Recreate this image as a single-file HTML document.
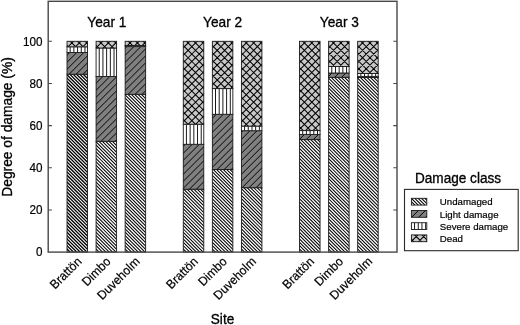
<!DOCTYPE html>
<html><head><meta charset="utf-8"><style>
html,body{margin:0;padding:0;background:#fff;}
body{width:520px;height:325px;overflow:hidden;}
svg{display:block;will-change:transform;font-family:"Liberation Sans",sans-serif;fill:#000;}
</style></head><body>
<svg width="520" height="325" viewBox="0 0 520 325">
<rect width="520" height="325" fill="#fff"/>
<clipPath id="c1"><rect x="67.02" y="74.20" width="20.50" height="177.90"/></clipPath><rect x="67.02" y="74.20" width="20.50" height="177.90" fill="#ffffff"/><path d="M66.02,50.35L88.52,72.85M66.02,53.70L88.52,76.20M66.02,57.05L88.52,79.55M66.02,60.40L88.52,82.90M66.02,63.75L88.52,86.25M66.02,67.10L88.52,89.60M66.02,70.45L88.52,92.95M66.02,73.80L88.52,96.30M66.02,77.15L88.52,99.65M66.02,80.50L88.52,103.00M66.02,83.85L88.52,106.35M66.02,87.20L88.52,109.70M66.02,90.55L88.52,113.05M66.02,93.90L88.52,116.40M66.02,97.25L88.52,119.75M66.02,100.60L88.52,123.10M66.02,103.95L88.52,126.45M66.02,107.30L88.52,129.80M66.02,110.65L88.52,133.15M66.02,114.00L88.52,136.50M66.02,117.35L88.52,139.85M66.02,120.70L88.52,143.20M66.02,124.05L88.52,146.55M66.02,127.40L88.52,149.90M66.02,130.75L88.52,153.25M66.02,134.10L88.52,156.60M66.02,137.45L88.52,159.95M66.02,140.80L88.52,163.30M66.02,144.15L88.52,166.65M66.02,147.50L88.52,170.00M66.02,150.85L88.52,173.35M66.02,154.20L88.52,176.70M66.02,157.55L88.52,180.05M66.02,160.90L88.52,183.40M66.02,164.25L88.52,186.75M66.02,167.60L88.52,190.10M66.02,170.95L88.52,193.45M66.02,174.30L88.52,196.80M66.02,177.65L88.52,200.15M66.02,181.00L88.52,203.50M66.02,184.35L88.52,206.85M66.02,187.70L88.52,210.20M66.02,191.05L88.52,213.55M66.02,194.40L88.52,216.90M66.02,197.75L88.52,220.25M66.02,201.10L88.52,223.60M66.02,204.45L88.52,226.95M66.02,207.80L88.52,230.30M66.02,211.15L88.52,233.65M66.02,214.50L88.52,237.00M66.02,217.85L88.52,240.35M66.02,221.20L88.52,243.70M66.02,224.55L88.52,247.05M66.02,227.90L88.52,250.40M66.02,231.25L88.52,253.75M66.02,234.60L88.52,257.10M66.02,237.95L88.52,260.45M66.02,241.30L88.52,263.80M66.02,244.65L88.52,267.15M66.02,248.00L88.52,270.50" stroke="#000" stroke-width="1.30" fill="none" clip-path="url(#c1)"/><rect x="67.02" y="74.20" width="20.50" height="177.90" fill="none" stroke="#1a1a1a" stroke-width="0.9"/>
<clipPath id="c2"><rect x="67.02" y="52.50" width="20.50" height="21.70"/></clipPath><rect x="67.02" y="52.50" width="20.50" height="21.70" fill="#808080"/><path d="M66.02,49.30L88.52,26.80M66.02,56.30L88.52,33.80M66.02,63.30L88.52,40.80M66.02,70.30L88.52,47.80M66.02,77.30L88.52,54.80M66.02,84.30L88.52,61.80M66.02,91.30L88.52,68.80" stroke="#000" stroke-width="1.00" fill="none" clip-path="url(#c2)"/><rect x="67.02" y="52.50" width="20.50" height="21.70" fill="none" stroke="#1a1a1a" stroke-width="0.9"/>
<clipPath id="c3"><rect x="67.02" y="46.80" width="20.50" height="5.70"/></clipPath><rect x="67.02" y="46.80" width="20.50" height="5.70" fill="#ffffff"/><path d="M70.17,46.80L70.17,52.50M73.87,46.80L73.87,52.50M77.57,46.80L77.57,52.50M81.27,46.80L81.27,52.50M84.97,46.80L84.97,52.50" stroke="#000" stroke-width="0.90" fill="none" clip-path="url(#c3)"/><rect x="67.02" y="46.80" width="20.50" height="5.70" fill="none" stroke="#1a1a1a" stroke-width="0.9"/>
<clipPath id="c4"><rect x="67.02" y="41.30" width="20.50" height="5.50"/></clipPath><rect x="67.02" y="41.30" width="20.50" height="5.50" fill="#c8c8c8"/><path d="M66.02,14.90L88.52,37.40M66.02,22.30L88.52,44.80M66.02,29.70L88.52,52.20M66.02,37.10L88.52,59.60M66.02,44.50L88.52,67.00M66.02,41.40L88.52,18.90M66.02,48.80L88.52,26.30M66.02,56.20L88.52,33.70M66.02,63.60L88.52,41.10" stroke="#000" stroke-width="1.05" fill="none" clip-path="url(#c4)"/><rect x="67.02" y="41.30" width="20.50" height="5.50" fill="none" stroke="#1a1a1a" stroke-width="0.9"/>
<clipPath id="c5"><rect x="96.08" y="141.30" width="20.50" height="110.80"/></clipPath><rect x="96.08" y="141.30" width="20.50" height="110.80" fill="#ffffff"/><path d="M95.08,117.35L117.58,139.85M95.08,120.70L117.58,143.20M95.08,124.05L117.58,146.55M95.08,127.40L117.58,149.90M95.08,130.75L117.58,153.25M95.08,134.10L117.58,156.60M95.08,137.45L117.58,159.95M95.08,140.80L117.58,163.30M95.08,144.15L117.58,166.65M95.08,147.50L117.58,170.00M95.08,150.85L117.58,173.35M95.08,154.20L117.58,176.70M95.08,157.55L117.58,180.05M95.08,160.90L117.58,183.40M95.08,164.25L117.58,186.75M95.08,167.60L117.58,190.10M95.08,170.95L117.58,193.45M95.08,174.30L117.58,196.80M95.08,177.65L117.58,200.15M95.08,181.00L117.58,203.50M95.08,184.35L117.58,206.85M95.08,187.70L117.58,210.20M95.08,191.05L117.58,213.55M95.08,194.40L117.58,216.90M95.08,197.75L117.58,220.25M95.08,201.10L117.58,223.60M95.08,204.45L117.58,226.95M95.08,207.80L117.58,230.30M95.08,211.15L117.58,233.65M95.08,214.50L117.58,237.00M95.08,217.85L117.58,240.35M95.08,221.20L117.58,243.70M95.08,224.55L117.58,247.05M95.08,227.90L117.58,250.40M95.08,231.25L117.58,253.75M95.08,234.60L117.58,257.10M95.08,237.95L117.58,260.45M95.08,241.30L117.58,263.80M95.08,244.65L117.58,267.15M95.08,248.00L117.58,270.50" stroke="#000" stroke-width="1.05" fill="none" clip-path="url(#c5)"/><rect x="96.08" y="141.30" width="20.50" height="110.80" fill="none" stroke="#1a1a1a" stroke-width="0.9"/>
<clipPath id="c6"><rect x="96.08" y="76.50" width="20.50" height="64.80"/></clipPath><rect x="96.08" y="76.50" width="20.50" height="64.80" fill="#808080"/><path d="M95.08,77.30L117.58,54.80M95.08,84.30L117.58,61.80M95.08,91.30L117.58,68.80M95.08,98.30L117.58,75.80M95.08,105.30L117.58,82.80M95.08,112.30L117.58,89.80M95.08,119.30L117.58,96.80M95.08,126.30L117.58,103.80M95.08,133.30L117.58,110.80M95.08,140.30L117.58,117.80M95.08,147.30L117.58,124.80M95.08,154.30L117.58,131.80M95.08,161.30L117.58,138.80" stroke="#000" stroke-width="1.00" fill="none" clip-path="url(#c6)"/><rect x="96.08" y="76.50" width="20.50" height="64.80" fill="none" stroke="#1a1a1a" stroke-width="0.9"/>
<clipPath id="c7"><rect x="96.08" y="48.00" width="20.50" height="28.50"/></clipPath><rect x="96.08" y="48.00" width="20.50" height="28.50" fill="#ffffff"/><path d="M99.23,48.00L99.23,76.50M102.93,48.00L102.93,76.50M106.63,48.00L106.63,76.50M110.33,48.00L110.33,76.50M114.03,48.00L114.03,76.50" stroke="#000" stroke-width="0.90" fill="none" clip-path="url(#c7)"/><rect x="96.08" y="48.00" width="20.50" height="28.50" fill="none" stroke="#1a1a1a" stroke-width="0.9"/>
<clipPath id="c8"><rect x="96.08" y="41.30" width="20.50" height="6.70"/></clipPath><rect x="96.08" y="41.30" width="20.50" height="6.70" fill="#c8c8c8"/><path d="M95.08,14.90L117.58,37.40M95.08,22.30L117.58,44.80M95.08,29.70L117.58,52.20M95.08,37.10L117.58,59.60M95.08,44.50L117.58,67.00M95.08,41.40L117.58,18.90M95.08,48.80L117.58,26.30M95.08,56.20L117.58,33.70M95.08,63.60L117.58,41.10" stroke="#000" stroke-width="1.05" fill="none" clip-path="url(#c8)"/><rect x="96.08" y="41.30" width="20.50" height="6.70" fill="none" stroke="#1a1a1a" stroke-width="0.9"/>
<clipPath id="c9"><rect x="125.15" y="94.30" width="20.50" height="157.80"/></clipPath><rect x="125.15" y="94.30" width="20.50" height="157.80" fill="#ffffff"/><path d="M124.15,70.45L146.65,92.95M124.15,73.80L146.65,96.30M124.15,77.15L146.65,99.65M124.15,80.50L146.65,103.00M124.15,83.85L146.65,106.35M124.15,87.20L146.65,109.70M124.15,90.55L146.65,113.05M124.15,93.90L146.65,116.40M124.15,97.25L146.65,119.75M124.15,100.60L146.65,123.10M124.15,103.95L146.65,126.45M124.15,107.30L146.65,129.80M124.15,110.65L146.65,133.15M124.15,114.00L146.65,136.50M124.15,117.35L146.65,139.85M124.15,120.70L146.65,143.20M124.15,124.05L146.65,146.55M124.15,127.40L146.65,149.90M124.15,130.75L146.65,153.25M124.15,134.10L146.65,156.60M124.15,137.45L146.65,159.95M124.15,140.80L146.65,163.30M124.15,144.15L146.65,166.65M124.15,147.50L146.65,170.00M124.15,150.85L146.65,173.35M124.15,154.20L146.65,176.70M124.15,157.55L146.65,180.05M124.15,160.90L146.65,183.40M124.15,164.25L146.65,186.75M124.15,167.60L146.65,190.10M124.15,170.95L146.65,193.45M124.15,174.30L146.65,196.80M124.15,177.65L146.65,200.15M124.15,181.00L146.65,203.50M124.15,184.35L146.65,206.85M124.15,187.70L146.65,210.20M124.15,191.05L146.65,213.55M124.15,194.40L146.65,216.90M124.15,197.75L146.65,220.25M124.15,201.10L146.65,223.60M124.15,204.45L146.65,226.95M124.15,207.80L146.65,230.30M124.15,211.15L146.65,233.65M124.15,214.50L146.65,237.00M124.15,217.85L146.65,240.35M124.15,221.20L146.65,243.70M124.15,224.55L146.65,247.05M124.15,227.90L146.65,250.40M124.15,231.25L146.65,253.75M124.15,234.60L146.65,257.10M124.15,237.95L146.65,260.45M124.15,241.30L146.65,263.80M124.15,244.65L146.65,267.15M124.15,248.00L146.65,270.50" stroke="#000" stroke-width="1.05" fill="none" clip-path="url(#c9)"/><rect x="125.15" y="94.30" width="20.50" height="157.80" fill="none" stroke="#1a1a1a" stroke-width="0.9"/>
<clipPath id="c10"><rect x="125.15" y="46.60" width="20.50" height="47.70"/></clipPath><rect x="125.15" y="46.60" width="20.50" height="47.70" fill="#808080"/><path d="M124.15,42.30L146.65,19.80M124.15,49.30L146.65,26.80M124.15,56.30L146.65,33.80M124.15,63.30L146.65,40.80M124.15,70.30L146.65,47.80M124.15,77.30L146.65,54.80M124.15,84.30L146.65,61.80M124.15,91.30L146.65,68.80M124.15,98.30L146.65,75.80M124.15,105.30L146.65,82.80M124.15,112.30L146.65,89.80" stroke="#000" stroke-width="1.00" fill="none" clip-path="url(#c10)"/><rect x="125.15" y="46.60" width="20.50" height="47.70" fill="none" stroke="#1a1a1a" stroke-width="0.9"/>
<clipPath id="c11"><rect x="125.15" y="45.50" width="20.50" height="1.10"/></clipPath><rect x="125.15" y="45.50" width="20.50" height="1.10" fill="#ffffff"/><path d="M128.30,45.50L128.30,46.60M132.00,45.50L132.00,46.60M135.70,45.50L135.70,46.60M139.40,45.50L139.40,46.60M143.10,45.50L143.10,46.60" stroke="#000" stroke-width="0.90" fill="none" clip-path="url(#c11)"/><rect x="125.15" y="45.50" width="20.50" height="1.10" fill="none" stroke="#1a1a1a" stroke-width="0.9"/>
<clipPath id="c12"><rect x="125.15" y="41.30" width="20.50" height="4.20"/></clipPath><rect x="125.15" y="41.30" width="20.50" height="4.20" fill="#c8c8c8"/><path d="M124.15,14.90L146.65,37.40M124.15,22.30L146.65,44.80M124.15,29.70L146.65,52.20M124.15,37.10L146.65,59.60M124.15,44.50L146.65,67.00M124.15,41.40L146.65,18.90M124.15,48.80L146.65,26.30M124.15,56.20L146.65,33.70M124.15,63.60L146.65,41.10" stroke="#000" stroke-width="1.05" fill="none" clip-path="url(#c12)"/><rect x="125.15" y="41.30" width="20.50" height="4.20" fill="none" stroke="#1a1a1a" stroke-width="0.9"/>
<clipPath id="c13"><rect x="183.28" y="189.20" width="20.50" height="62.90"/></clipPath><rect x="183.28" y="189.20" width="20.50" height="62.90" fill="#ffffff"/><path d="M182.28,167.60L204.78,190.10M182.28,170.95L204.78,193.45M182.28,174.30L204.78,196.80M182.28,177.65L204.78,200.15M182.28,181.00L204.78,203.50M182.28,184.35L204.78,206.85M182.28,187.70L204.78,210.20M182.28,191.05L204.78,213.55M182.28,194.40L204.78,216.90M182.28,197.75L204.78,220.25M182.28,201.10L204.78,223.60M182.28,204.45L204.78,226.95M182.28,207.80L204.78,230.30M182.28,211.15L204.78,233.65M182.28,214.50L204.78,237.00M182.28,217.85L204.78,240.35M182.28,221.20L204.78,243.70M182.28,224.55L204.78,247.05M182.28,227.90L204.78,250.40M182.28,231.25L204.78,253.75M182.28,234.60L204.78,257.10M182.28,237.95L204.78,260.45M182.28,241.30L204.78,263.80M182.28,244.65L204.78,267.15M182.28,248.00L204.78,270.50" stroke="#000" stroke-width="1.05" fill="none" clip-path="url(#c13)"/><rect x="183.28" y="189.20" width="20.50" height="62.90" fill="none" stroke="#1a1a1a" stroke-width="0.9"/>
<clipPath id="c14"><rect x="183.28" y="144.30" width="20.50" height="44.90"/></clipPath><rect x="183.28" y="144.30" width="20.50" height="44.90" fill="#808080"/><path d="M182.28,140.30L204.78,117.80M182.28,147.30L204.78,124.80M182.28,154.30L204.78,131.80M182.28,161.30L204.78,138.80M182.28,168.30L204.78,145.80M182.28,175.30L204.78,152.80M182.28,182.30L204.78,159.80M182.28,189.30L204.78,166.80M182.28,196.30L204.78,173.80M182.28,203.30L204.78,180.80M182.28,210.30L204.78,187.80" stroke="#000" stroke-width="1.00" fill="none" clip-path="url(#c14)"/><rect x="183.28" y="144.30" width="20.50" height="44.90" fill="none" stroke="#1a1a1a" stroke-width="0.9"/>
<clipPath id="c15"><rect x="183.28" y="124.20" width="20.50" height="20.10"/></clipPath><rect x="183.28" y="124.20" width="20.50" height="20.10" fill="#ffffff"/><path d="M186.43,124.20L186.43,144.30M190.13,124.20L190.13,144.30M193.83,124.20L193.83,144.30M197.53,124.20L197.53,144.30M201.23,124.20L201.23,144.30" stroke="#000" stroke-width="0.90" fill="none" clip-path="url(#c15)"/><rect x="183.28" y="124.20" width="20.50" height="20.10" fill="none" stroke="#1a1a1a" stroke-width="0.9"/>
<clipPath id="c16"><rect x="183.28" y="41.30" width="20.50" height="82.90"/></clipPath><rect x="183.28" y="41.30" width="20.50" height="82.90" fill="#c8c8c8"/><path d="M182.28,14.90L204.78,37.40M182.28,22.30L204.78,44.80M182.28,29.70L204.78,52.20M182.28,37.10L204.78,59.60M182.28,44.50L204.78,67.00M182.28,51.90L204.78,74.40M182.28,59.30L204.78,81.80M182.28,66.70L204.78,89.20M182.28,74.10L204.78,96.60M182.28,81.50L204.78,104.00M182.28,88.90L204.78,111.40M182.28,96.30L204.78,118.80M182.28,103.70L204.78,126.20M182.28,111.10L204.78,133.60M182.28,118.50L204.78,141.00M182.28,41.40L204.78,18.90M182.28,48.80L204.78,26.30M182.28,56.20L204.78,33.70M182.28,63.60L204.78,41.10M182.28,71.00L204.78,48.50M182.28,78.40L204.78,55.90M182.28,85.80L204.78,63.30M182.28,93.20L204.78,70.70M182.28,100.60L204.78,78.10M182.28,108.00L204.78,85.50M182.28,115.40L204.78,92.90M182.28,122.80L204.78,100.30M182.28,130.20L204.78,107.70M182.28,137.60L204.78,115.10M182.28,145.00L204.78,122.50" stroke="#000" stroke-width="1.05" fill="none" clip-path="url(#c16)"/><rect x="183.28" y="41.30" width="20.50" height="82.90" fill="none" stroke="#1a1a1a" stroke-width="0.9"/>
<clipPath id="c17"><rect x="212.35" y="169.50" width="20.50" height="82.60"/></clipPath><rect x="212.35" y="169.50" width="20.50" height="82.60" fill="#ffffff"/><path d="M211.35,147.50L233.85,170.00M211.35,150.85L233.85,173.35M211.35,154.20L233.85,176.70M211.35,157.55L233.85,180.05M211.35,160.90L233.85,183.40M211.35,164.25L233.85,186.75M211.35,167.60L233.85,190.10M211.35,170.95L233.85,193.45M211.35,174.30L233.85,196.80M211.35,177.65L233.85,200.15M211.35,181.00L233.85,203.50M211.35,184.35L233.85,206.85M211.35,187.70L233.85,210.20M211.35,191.05L233.85,213.55M211.35,194.40L233.85,216.90M211.35,197.75L233.85,220.25M211.35,201.10L233.85,223.60M211.35,204.45L233.85,226.95M211.35,207.80L233.85,230.30M211.35,211.15L233.85,233.65M211.35,214.50L233.85,237.00M211.35,217.85L233.85,240.35M211.35,221.20L233.85,243.70M211.35,224.55L233.85,247.05M211.35,227.90L233.85,250.40M211.35,231.25L233.85,253.75M211.35,234.60L233.85,257.10M211.35,237.95L233.85,260.45M211.35,241.30L233.85,263.80M211.35,244.65L233.85,267.15M211.35,248.00L233.85,270.50" stroke="#000" stroke-width="1.05" fill="none" clip-path="url(#c17)"/><rect x="212.35" y="169.50" width="20.50" height="82.60" fill="none" stroke="#1a1a1a" stroke-width="0.9"/>
<clipPath id="c18"><rect x="212.35" y="114.30" width="20.50" height="55.20"/></clipPath><rect x="212.35" y="114.30" width="20.50" height="55.20" fill="#808080"/><path d="M211.35,112.30L233.85,89.80M211.35,119.30L233.85,96.80M211.35,126.30L233.85,103.80M211.35,133.30L233.85,110.80M211.35,140.30L233.85,117.80M211.35,147.30L233.85,124.80M211.35,154.30L233.85,131.80M211.35,161.30L233.85,138.80M211.35,168.30L233.85,145.80M211.35,175.30L233.85,152.80M211.35,182.30L233.85,159.80M211.35,189.30L233.85,166.80" stroke="#000" stroke-width="1.00" fill="none" clip-path="url(#c18)"/><rect x="212.35" y="114.30" width="20.50" height="55.20" fill="none" stroke="#1a1a1a" stroke-width="0.9"/>
<clipPath id="c19"><rect x="212.35" y="88.60" width="20.50" height="25.70"/></clipPath><rect x="212.35" y="88.60" width="20.50" height="25.70" fill="#ffffff"/><path d="M215.50,88.60L215.50,114.30M219.20,88.60L219.20,114.30M222.90,88.60L222.90,114.30M226.60,88.60L226.60,114.30M230.30,88.60L230.30,114.30" stroke="#000" stroke-width="0.90" fill="none" clip-path="url(#c19)"/><rect x="212.35" y="88.60" width="20.50" height="25.70" fill="none" stroke="#1a1a1a" stroke-width="0.9"/>
<clipPath id="c20"><rect x="212.35" y="41.30" width="20.50" height="47.30"/></clipPath><rect x="212.35" y="41.30" width="20.50" height="47.30" fill="#c8c8c8"/><path d="M211.35,14.90L233.85,37.40M211.35,22.30L233.85,44.80M211.35,29.70L233.85,52.20M211.35,37.10L233.85,59.60M211.35,44.50L233.85,67.00M211.35,51.90L233.85,74.40M211.35,59.30L233.85,81.80M211.35,66.70L233.85,89.20M211.35,74.10L233.85,96.60M211.35,81.50L233.85,104.00M211.35,41.40L233.85,18.90M211.35,48.80L233.85,26.30M211.35,56.20L233.85,33.70M211.35,63.60L233.85,41.10M211.35,71.00L233.85,48.50M211.35,78.40L233.85,55.90M211.35,85.80L233.85,63.30M211.35,93.20L233.85,70.70M211.35,100.60L233.85,78.10M211.35,108.00L233.85,85.50" stroke="#000" stroke-width="1.05" fill="none" clip-path="url(#c20)"/><rect x="212.35" y="41.30" width="20.50" height="47.30" fill="none" stroke="#1a1a1a" stroke-width="0.9"/>
<clipPath id="c21"><rect x="241.42" y="187.70" width="20.50" height="64.40"/></clipPath><rect x="241.42" y="187.70" width="20.50" height="64.40" fill="#ffffff"/><path d="M240.42,164.25L262.92,186.75M240.42,167.60L262.92,190.10M240.42,170.95L262.92,193.45M240.42,174.30L262.92,196.80M240.42,177.65L262.92,200.15M240.42,181.00L262.92,203.50M240.42,184.35L262.92,206.85M240.42,187.70L262.92,210.20M240.42,191.05L262.92,213.55M240.42,194.40L262.92,216.90M240.42,197.75L262.92,220.25M240.42,201.10L262.92,223.60M240.42,204.45L262.92,226.95M240.42,207.80L262.92,230.30M240.42,211.15L262.92,233.65M240.42,214.50L262.92,237.00M240.42,217.85L262.92,240.35M240.42,221.20L262.92,243.70M240.42,224.55L262.92,247.05M240.42,227.90L262.92,250.40M240.42,231.25L262.92,253.75M240.42,234.60L262.92,257.10M240.42,237.95L262.92,260.45M240.42,241.30L262.92,263.80M240.42,244.65L262.92,267.15M240.42,248.00L262.92,270.50" stroke="#000" stroke-width="1.05" fill="none" clip-path="url(#c21)"/><rect x="241.42" y="187.70" width="20.50" height="64.40" fill="none" stroke="#1a1a1a" stroke-width="0.9"/>
<clipPath id="c22"><rect x="241.42" y="130.70" width="20.50" height="57.00"/></clipPath><rect x="241.42" y="130.70" width="20.50" height="57.00" fill="#808080"/><path d="M240.42,126.30L262.92,103.80M240.42,133.30L262.92,110.80M240.42,140.30L262.92,117.80M240.42,147.30L262.92,124.80M240.42,154.30L262.92,131.80M240.42,161.30L262.92,138.80M240.42,168.30L262.92,145.80M240.42,175.30L262.92,152.80M240.42,182.30L262.92,159.80M240.42,189.30L262.92,166.80M240.42,196.30L262.92,173.80M240.42,203.30L262.92,180.80" stroke="#000" stroke-width="1.00" fill="none" clip-path="url(#c22)"/><rect x="241.42" y="130.70" width="20.50" height="57.00" fill="none" stroke="#1a1a1a" stroke-width="0.9"/>
<clipPath id="c23"><rect x="241.42" y="126.10" width="20.50" height="4.60"/></clipPath><rect x="241.42" y="126.10" width="20.50" height="4.60" fill="#ffffff"/><path d="M244.57,126.10L244.57,130.70M248.27,126.10L248.27,130.70M251.97,126.10L251.97,130.70M255.67,126.10L255.67,130.70M259.37,126.10L259.37,130.70" stroke="#000" stroke-width="0.90" fill="none" clip-path="url(#c23)"/><rect x="241.42" y="126.10" width="20.50" height="4.60" fill="none" stroke="#1a1a1a" stroke-width="0.9"/>
<clipPath id="c24"><rect x="241.42" y="41.30" width="20.50" height="84.80"/></clipPath><rect x="241.42" y="41.30" width="20.50" height="84.80" fill="#c8c8c8"/><path d="M240.42,14.90L262.92,37.40M240.42,22.30L262.92,44.80M240.42,29.70L262.92,52.20M240.42,37.10L262.92,59.60M240.42,44.50L262.92,67.00M240.42,51.90L262.92,74.40M240.42,59.30L262.92,81.80M240.42,66.70L262.92,89.20M240.42,74.10L262.92,96.60M240.42,81.50L262.92,104.00M240.42,88.90L262.92,111.40M240.42,96.30L262.92,118.80M240.42,103.70L262.92,126.20M240.42,111.10L262.92,133.60M240.42,118.50L262.92,141.00M240.42,41.40L262.92,18.90M240.42,48.80L262.92,26.30M240.42,56.20L262.92,33.70M240.42,63.60L262.92,41.10M240.42,71.00L262.92,48.50M240.42,78.40L262.92,55.90M240.42,85.80L262.92,63.30M240.42,93.20L262.92,70.70M240.42,100.60L262.92,78.10M240.42,108.00L262.92,85.50M240.42,115.40L262.92,92.90M240.42,122.80L262.92,100.30M240.42,130.20L262.92,107.70M240.42,137.60L262.92,115.10M240.42,145.00L262.92,122.50" stroke="#000" stroke-width="1.05" fill="none" clip-path="url(#c24)"/><rect x="241.42" y="41.30" width="20.50" height="84.80" fill="none" stroke="#1a1a1a" stroke-width="0.9"/>
<clipPath id="c25"><rect x="299.55" y="139.60" width="20.50" height="112.50"/></clipPath><rect x="299.55" y="139.60" width="20.50" height="112.50" fill="#ffffff"/><path d="M298.55,117.35L321.05,139.85M298.55,120.70L321.05,143.20M298.55,124.05L321.05,146.55M298.55,127.40L321.05,149.90M298.55,130.75L321.05,153.25M298.55,134.10L321.05,156.60M298.55,137.45L321.05,159.95M298.55,140.80L321.05,163.30M298.55,144.15L321.05,166.65M298.55,147.50L321.05,170.00M298.55,150.85L321.05,173.35M298.55,154.20L321.05,176.70M298.55,157.55L321.05,180.05M298.55,160.90L321.05,183.40M298.55,164.25L321.05,186.75M298.55,167.60L321.05,190.10M298.55,170.95L321.05,193.45M298.55,174.30L321.05,196.80M298.55,177.65L321.05,200.15M298.55,181.00L321.05,203.50M298.55,184.35L321.05,206.85M298.55,187.70L321.05,210.20M298.55,191.05L321.05,213.55M298.55,194.40L321.05,216.90M298.55,197.75L321.05,220.25M298.55,201.10L321.05,223.60M298.55,204.45L321.05,226.95M298.55,207.80L321.05,230.30M298.55,211.15L321.05,233.65M298.55,214.50L321.05,237.00M298.55,217.85L321.05,240.35M298.55,221.20L321.05,243.70M298.55,224.55L321.05,247.05M298.55,227.90L321.05,250.40M298.55,231.25L321.05,253.75M298.55,234.60L321.05,257.10M298.55,237.95L321.05,260.45M298.55,241.30L321.05,263.80M298.55,244.65L321.05,267.15M298.55,248.00L321.05,270.50" stroke="#000" stroke-width="1.05" fill="none" clip-path="url(#c25)"/><rect x="299.55" y="139.60" width="20.50" height="112.50" fill="none" stroke="#1a1a1a" stroke-width="0.9"/>
<clipPath id="c26"><rect x="299.55" y="134.40" width="20.50" height="5.20"/></clipPath><rect x="299.55" y="134.40" width="20.50" height="5.20" fill="#808080"/><path d="M298.55,133.30L321.05,110.80M298.55,140.30L321.05,117.80M298.55,147.30L321.05,124.80M298.55,154.30L321.05,131.80" stroke="#000" stroke-width="1.00" fill="none" clip-path="url(#c26)"/><rect x="299.55" y="134.40" width="20.50" height="5.20" fill="none" stroke="#1a1a1a" stroke-width="0.9"/>
<clipPath id="c27"><rect x="299.55" y="130.60" width="20.50" height="3.80"/></clipPath><rect x="299.55" y="130.60" width="20.50" height="3.80" fill="#ffffff"/><path d="M302.70,130.60L302.70,134.40M306.40,130.60L306.40,134.40M310.10,130.60L310.10,134.40M313.80,130.60L313.80,134.40M317.50,130.60L317.50,134.40" stroke="#000" stroke-width="0.90" fill="none" clip-path="url(#c27)"/><rect x="299.55" y="130.60" width="20.50" height="3.80" fill="none" stroke="#1a1a1a" stroke-width="0.9"/>
<clipPath id="c28"><rect x="299.55" y="41.30" width="20.50" height="89.30"/></clipPath><rect x="299.55" y="41.30" width="20.50" height="89.30" fill="#c8c8c8"/><path d="M298.55,14.90L321.05,37.40M298.55,22.30L321.05,44.80M298.55,29.70L321.05,52.20M298.55,37.10L321.05,59.60M298.55,44.50L321.05,67.00M298.55,51.90L321.05,74.40M298.55,59.30L321.05,81.80M298.55,66.70L321.05,89.20M298.55,74.10L321.05,96.60M298.55,81.50L321.05,104.00M298.55,88.90L321.05,111.40M298.55,96.30L321.05,118.80M298.55,103.70L321.05,126.20M298.55,111.10L321.05,133.60M298.55,118.50L321.05,141.00M298.55,125.90L321.05,148.40M298.55,41.40L321.05,18.90M298.55,48.80L321.05,26.30M298.55,56.20L321.05,33.70M298.55,63.60L321.05,41.10M298.55,71.00L321.05,48.50M298.55,78.40L321.05,55.90M298.55,85.80L321.05,63.30M298.55,93.20L321.05,70.70M298.55,100.60L321.05,78.10M298.55,108.00L321.05,85.50M298.55,115.40L321.05,92.90M298.55,122.80L321.05,100.30M298.55,130.20L321.05,107.70M298.55,137.60L321.05,115.10M298.55,145.00L321.05,122.50" stroke="#000" stroke-width="1.05" fill="none" clip-path="url(#c28)"/><rect x="299.55" y="41.30" width="20.50" height="89.30" fill="none" stroke="#1a1a1a" stroke-width="0.9"/>
<clipPath id="c29"><rect x="328.62" y="77.30" width="20.50" height="174.80"/></clipPath><rect x="328.62" y="77.30" width="20.50" height="174.80" fill="#ffffff"/><path d="M327.62,53.70L350.12,76.20M327.62,57.05L350.12,79.55M327.62,60.40L350.12,82.90M327.62,63.75L350.12,86.25M327.62,67.10L350.12,89.60M327.62,70.45L350.12,92.95M327.62,73.80L350.12,96.30M327.62,77.15L350.12,99.65M327.62,80.50L350.12,103.00M327.62,83.85L350.12,106.35M327.62,87.20L350.12,109.70M327.62,90.55L350.12,113.05M327.62,93.90L350.12,116.40M327.62,97.25L350.12,119.75M327.62,100.60L350.12,123.10M327.62,103.95L350.12,126.45M327.62,107.30L350.12,129.80M327.62,110.65L350.12,133.15M327.62,114.00L350.12,136.50M327.62,117.35L350.12,139.85M327.62,120.70L350.12,143.20M327.62,124.05L350.12,146.55M327.62,127.40L350.12,149.90M327.62,130.75L350.12,153.25M327.62,134.10L350.12,156.60M327.62,137.45L350.12,159.95M327.62,140.80L350.12,163.30M327.62,144.15L350.12,166.65M327.62,147.50L350.12,170.00M327.62,150.85L350.12,173.35M327.62,154.20L350.12,176.70M327.62,157.55L350.12,180.05M327.62,160.90L350.12,183.40M327.62,164.25L350.12,186.75M327.62,167.60L350.12,190.10M327.62,170.95L350.12,193.45M327.62,174.30L350.12,196.80M327.62,177.65L350.12,200.15M327.62,181.00L350.12,203.50M327.62,184.35L350.12,206.85M327.62,187.70L350.12,210.20M327.62,191.05L350.12,213.55M327.62,194.40L350.12,216.90M327.62,197.75L350.12,220.25M327.62,201.10L350.12,223.60M327.62,204.45L350.12,226.95M327.62,207.80L350.12,230.30M327.62,211.15L350.12,233.65M327.62,214.50L350.12,237.00M327.62,217.85L350.12,240.35M327.62,221.20L350.12,243.70M327.62,224.55L350.12,247.05M327.62,227.90L350.12,250.40M327.62,231.25L350.12,253.75M327.62,234.60L350.12,257.10M327.62,237.95L350.12,260.45M327.62,241.30L350.12,263.80M327.62,244.65L350.12,267.15M327.62,248.00L350.12,270.50" stroke="#000" stroke-width="1.05" fill="none" clip-path="url(#c29)"/><rect x="328.62" y="77.30" width="20.50" height="174.80" fill="none" stroke="#1a1a1a" stroke-width="0.9"/>
<clipPath id="c30"><rect x="328.62" y="73.00" width="20.50" height="4.30"/></clipPath><rect x="328.62" y="73.00" width="20.50" height="4.30" fill="#808080"/><path d="M327.62,70.30L350.12,47.80M327.62,77.30L350.12,54.80M327.62,84.30L350.12,61.80M327.62,91.30L350.12,68.80M327.62,98.30L350.12,75.80" stroke="#000" stroke-width="1.00" fill="none" clip-path="url(#c30)"/><rect x="328.62" y="73.00" width="20.50" height="4.30" fill="none" stroke="#1a1a1a" stroke-width="0.9"/>
<clipPath id="c31"><rect x="328.62" y="66.50" width="20.50" height="6.50"/></clipPath><rect x="328.62" y="66.50" width="20.50" height="6.50" fill="#ffffff"/><path d="M331.77,66.50L331.77,73.00M335.47,66.50L335.47,73.00M339.17,66.50L339.17,73.00M342.87,66.50L342.87,73.00M346.57,66.50L346.57,73.00" stroke="#000" stroke-width="0.90" fill="none" clip-path="url(#c31)"/><rect x="328.62" y="66.50" width="20.50" height="6.50" fill="none" stroke="#1a1a1a" stroke-width="0.9"/>
<clipPath id="c32"><rect x="328.62" y="41.30" width="20.50" height="25.20"/></clipPath><rect x="328.62" y="41.30" width="20.50" height="25.20" fill="#c8c8c8"/><path d="M327.62,14.90L350.12,37.40M327.62,22.30L350.12,44.80M327.62,29.70L350.12,52.20M327.62,37.10L350.12,59.60M327.62,44.50L350.12,67.00M327.62,51.90L350.12,74.40M327.62,59.30L350.12,81.80M327.62,41.40L350.12,18.90M327.62,48.80L350.12,26.30M327.62,56.20L350.12,33.70M327.62,63.60L350.12,41.10M327.62,71.00L350.12,48.50M327.62,78.40L350.12,55.90M327.62,85.80L350.12,63.30" stroke="#000" stroke-width="1.05" fill="none" clip-path="url(#c32)"/><rect x="328.62" y="41.30" width="20.50" height="25.20" fill="none" stroke="#1a1a1a" stroke-width="0.9"/>
<clipPath id="c33"><rect x="357.68" y="77.50" width="20.50" height="174.60"/></clipPath><rect x="357.68" y="77.50" width="20.50" height="174.60" fill="#ffffff"/><path d="M356.68,53.70L379.18,76.20M356.68,57.05L379.18,79.55M356.68,60.40L379.18,82.90M356.68,63.75L379.18,86.25M356.68,67.10L379.18,89.60M356.68,70.45L379.18,92.95M356.68,73.80L379.18,96.30M356.68,77.15L379.18,99.65M356.68,80.50L379.18,103.00M356.68,83.85L379.18,106.35M356.68,87.20L379.18,109.70M356.68,90.55L379.18,113.05M356.68,93.90L379.18,116.40M356.68,97.25L379.18,119.75M356.68,100.60L379.18,123.10M356.68,103.95L379.18,126.45M356.68,107.30L379.18,129.80M356.68,110.65L379.18,133.15M356.68,114.00L379.18,136.50M356.68,117.35L379.18,139.85M356.68,120.70L379.18,143.20M356.68,124.05L379.18,146.55M356.68,127.40L379.18,149.90M356.68,130.75L379.18,153.25M356.68,134.10L379.18,156.60M356.68,137.45L379.18,159.95M356.68,140.80L379.18,163.30M356.68,144.15L379.18,166.65M356.68,147.50L379.18,170.00M356.68,150.85L379.18,173.35M356.68,154.20L379.18,176.70M356.68,157.55L379.18,180.05M356.68,160.90L379.18,183.40M356.68,164.25L379.18,186.75M356.68,167.60L379.18,190.10M356.68,170.95L379.18,193.45M356.68,174.30L379.18,196.80M356.68,177.65L379.18,200.15M356.68,181.00L379.18,203.50M356.68,184.35L379.18,206.85M356.68,187.70L379.18,210.20M356.68,191.05L379.18,213.55M356.68,194.40L379.18,216.90M356.68,197.75L379.18,220.25M356.68,201.10L379.18,223.60M356.68,204.45L379.18,226.95M356.68,207.80L379.18,230.30M356.68,211.15L379.18,233.65M356.68,214.50L379.18,237.00M356.68,217.85L379.18,240.35M356.68,221.20L379.18,243.70M356.68,224.55L379.18,247.05M356.68,227.90L379.18,250.40M356.68,231.25L379.18,253.75M356.68,234.60L379.18,257.10M356.68,237.95L379.18,260.45M356.68,241.30L379.18,263.80M356.68,244.65L379.18,267.15M356.68,248.00L379.18,270.50" stroke="#000" stroke-width="1.05" fill="none" clip-path="url(#c33)"/><rect x="357.68" y="77.50" width="20.50" height="174.60" fill="none" stroke="#1a1a1a" stroke-width="0.9"/>
<clipPath id="c34"><rect x="357.68" y="76.40" width="20.50" height="1.10"/></clipPath><rect x="357.68" y="76.40" width="20.50" height="1.10" fill="#808080"/><path d="M356.68,77.30L379.18,54.80M356.68,84.30L379.18,61.80M356.68,91.30L379.18,68.80M356.68,98.30L379.18,75.80" stroke="#000" stroke-width="1.00" fill="none" clip-path="url(#c34)"/><rect x="357.68" y="76.40" width="20.50" height="1.10" fill="none" stroke="#1a1a1a" stroke-width="0.9"/>
<clipPath id="c35"><rect x="357.68" y="73.50" width="20.50" height="2.90"/></clipPath><rect x="357.68" y="73.50" width="20.50" height="2.90" fill="#ffffff"/><path d="M360.83,73.50L360.83,76.40M364.53,73.50L364.53,76.40M368.23,73.50L368.23,76.40M371.93,73.50L371.93,76.40M375.63,73.50L375.63,76.40" stroke="#000" stroke-width="0.90" fill="none" clip-path="url(#c35)"/><rect x="357.68" y="73.50" width="20.50" height="2.90" fill="none" stroke="#1a1a1a" stroke-width="0.9"/>
<clipPath id="c36"><rect x="357.68" y="41.30" width="20.50" height="32.20"/></clipPath><rect x="357.68" y="41.30" width="20.50" height="32.20" fill="#c8c8c8"/><path d="M356.68,14.90L379.18,37.40M356.68,22.30L379.18,44.80M356.68,29.70L379.18,52.20M356.68,37.10L379.18,59.60M356.68,44.50L379.18,67.00M356.68,51.90L379.18,74.40M356.68,59.30L379.18,81.80M356.68,66.70L379.18,89.20M356.68,41.40L379.18,18.90M356.68,48.80L379.18,26.30M356.68,56.20L379.18,33.70M356.68,63.60L379.18,41.10M356.68,71.00L379.18,48.50M356.68,78.40L379.18,55.90M356.68,85.80L379.18,63.30M356.68,93.20L379.18,70.70" stroke="#000" stroke-width="1.05" fill="none" clip-path="url(#c36)"/><rect x="357.68" y="41.30" width="20.50" height="32.20" fill="none" stroke="#1a1a1a" stroke-width="0.9"/>
<rect x="48.20" y="1.30" width="348.80" height="250.80" fill="none" stroke="#484848" stroke-width="1.4"/>
<text transform="translate(42.50,256.45) rotate(0) scale(1,1.030)" text-anchor="end" font-size="11.7" stroke="#000" stroke-width="0.2">0</text>
<path d="M48.20,209.94h3.7M397.00,209.94h-3.7" stroke="#484848" stroke-width="1.1"/>
<text transform="translate(42.50,214.29) rotate(0) scale(1,1.030)" text-anchor="end" font-size="11.7" stroke="#000" stroke-width="0.2">20</text>
<path d="M48.20,167.78h3.7M397.00,167.78h-3.7" stroke="#484848" stroke-width="1.1"/>
<text transform="translate(42.50,172.13) rotate(0) scale(1,1.030)" text-anchor="end" font-size="11.7" stroke="#000" stroke-width="0.2">40</text>
<path d="M48.20,125.62h3.7M397.00,125.62h-3.7" stroke="#484848" stroke-width="1.1"/>
<text transform="translate(42.50,129.97) rotate(0) scale(1,1.030)" text-anchor="end" font-size="11.7" stroke="#000" stroke-width="0.2">60</text>
<path d="M48.20,83.46h3.7M397.00,83.46h-3.7" stroke="#484848" stroke-width="1.1"/>
<text transform="translate(42.50,87.81) rotate(0) scale(1,1.030)" text-anchor="end" font-size="11.7" stroke="#000" stroke-width="0.2">80</text>
<path d="M48.20,41.30h3.7M397.00,41.30h-3.7" stroke="#484848" stroke-width="1.1"/>
<text transform="translate(42.50,45.65) rotate(0) scale(1,1.030)" text-anchor="end" font-size="11.7" stroke="#000" stroke-width="0.2">100</text>
<text transform="translate(106.83,26.50) rotate(0) scale(1,1.090)" text-anchor="middle" font-size="13.7" stroke="#000" stroke-width="0.3">Year 1</text>
<text transform="translate(222.60,26.50) rotate(0) scale(1,1.090)" text-anchor="middle" font-size="13.7" stroke="#000" stroke-width="0.3">Year 2</text>
<text transform="translate(339.37,26.50) rotate(0) scale(1,1.090)" text-anchor="middle" font-size="13.7" stroke="#000" stroke-width="0.3">Year 3</text>
<text transform="translate(82.37,262.30) rotate(-45) scale(1,1.050)" text-anchor="end" font-size="12" stroke="#000" stroke-width="0.2">Brattön</text>
<text transform="translate(111.43,262.30) rotate(-45) scale(1,1.050)" text-anchor="end" font-size="12" stroke="#000" stroke-width="0.2">Dimbo</text>
<text transform="translate(140.50,262.30) rotate(-45) scale(1,1.050)" text-anchor="end" font-size="12" stroke="#000" stroke-width="0.2">Duveholm</text>
<text transform="translate(198.63,262.30) rotate(-45) scale(1,1.050)" text-anchor="end" font-size="12" stroke="#000" stroke-width="0.2">Brattön</text>
<text transform="translate(227.70,262.30) rotate(-45) scale(1,1.050)" text-anchor="end" font-size="12" stroke="#000" stroke-width="0.2">Dimbo</text>
<text transform="translate(256.77,262.30) rotate(-45) scale(1,1.050)" text-anchor="end" font-size="12" stroke="#000" stroke-width="0.2">Duveholm</text>
<text transform="translate(314.90,262.30) rotate(-45) scale(1,1.050)" text-anchor="end" font-size="12" stroke="#000" stroke-width="0.2">Brattön</text>
<text transform="translate(343.97,262.30) rotate(-45) scale(1,1.050)" text-anchor="end" font-size="12" stroke="#000" stroke-width="0.2">Dimbo</text>
<text transform="translate(373.03,262.30) rotate(-45) scale(1,1.050)" text-anchor="end" font-size="12" stroke="#000" stroke-width="0.2">Duveholm</text>
<text transform="translate(222.50,323.50) rotate(0) scale(1,1.090)" text-anchor="middle" font-size="13.6" stroke="#000" stroke-width="0.3">Site</text>
<text transform="translate(11.60,127.00) rotate(-90) scale(1,1.090)" text-anchor="middle" font-size="13.8" stroke="#000" stroke-width="0.3">Degree of damage (%)</text>
<text transform="translate(458.00,183.00) rotate(0) scale(1,1.090)" text-anchor="middle" font-size="13.6" stroke="#000" stroke-width="0.3">Damage class</text>
<rect x="404.5" y="189.4" width="113.7" height="61.3" fill="#fff" stroke="#2a2a2a" stroke-width="1.1"/>
<clipPath id="c37"><rect x="411.40" y="198.30" width="15.40" height="6.80"/></clipPath><rect x="411.40" y="198.30" width="15.40" height="6.80" fill="#ffffff"/><path d="M410.40,180.55L427.80,197.95M410.40,183.90L427.80,201.30M410.40,187.25L427.80,204.65M410.40,190.60L427.80,208.00M410.40,193.95L427.80,211.35M410.40,197.30L427.80,214.70M410.40,200.65L427.80,218.05M410.40,204.00L427.80,221.40" stroke="#000" stroke-width="1.05" fill="none" clip-path="url(#c37)"/><rect x="411.40" y="198.30" width="15.40" height="6.80" fill="none" stroke="#1a1a1a" stroke-width="0.9"/>
<text transform="translate(439.80,205.30) rotate(0) scale(1,0.970)" text-anchor="start" font-size="9.7" stroke="#000" stroke-width="0.2">Undamaged</text>
<clipPath id="c38"><rect x="411.40" y="210.50" width="15.40" height="6.80"/></clipPath><rect x="411.40" y="210.50" width="15.40" height="6.80" fill="#808080"/><path d="M410.40,211.50L427.80,194.10M410.40,218.50L427.80,201.10M410.40,225.50L427.80,208.10M410.40,232.50L427.80,215.10" stroke="#000" stroke-width="1.00" fill="none" clip-path="url(#c38)"/><rect x="411.40" y="210.50" width="15.40" height="6.80" fill="none" stroke="#1a1a1a" stroke-width="0.9"/>
<text transform="translate(439.80,217.50) rotate(0) scale(1,0.970)" text-anchor="start" font-size="9.7" stroke="#000" stroke-width="0.2">Light damage</text>
<clipPath id="c39"><rect x="411.40" y="222.70" width="15.40" height="6.80"/></clipPath><rect x="411.40" y="222.70" width="15.40" height="6.80" fill="#ffffff"/><path d="M414.55,222.70L414.55,229.50M418.25,222.70L418.25,229.50M421.95,222.70L421.95,229.50M425.65,222.70L425.65,229.50" stroke="#000" stroke-width="0.90" fill="none" clip-path="url(#c39)"/><rect x="411.40" y="222.70" width="15.40" height="6.80" fill="none" stroke="#1a1a1a" stroke-width="0.9"/>
<text transform="translate(439.80,229.70) rotate(0) scale(1,0.970)" text-anchor="start" font-size="9.7" stroke="#000" stroke-width="0.2">Severe damage</text>
<clipPath id="c40"><rect x="411.40" y="234.90" width="15.40" height="6.80"/></clipPath><rect x="411.40" y="234.90" width="15.40" height="6.80" fill="#c8c8c8"/><path d="M410.40,215.90L427.80,233.30M410.40,223.30L427.80,240.70M410.40,230.70L427.80,248.10M410.40,238.10L427.80,255.50M410.40,235.00L427.80,217.60M410.40,242.40L427.80,225.00M410.40,249.80L427.80,232.40M410.40,257.20L427.80,239.80" stroke="#000" stroke-width="1.05" fill="none" clip-path="url(#c40)"/><rect x="411.40" y="234.90" width="15.40" height="6.80" fill="none" stroke="#1a1a1a" stroke-width="0.9"/>
<text transform="translate(439.80,241.90) rotate(0) scale(1,0.970)" text-anchor="start" font-size="9.7" stroke="#000" stroke-width="0.2">Dead</text>
</svg>
</body></html>
